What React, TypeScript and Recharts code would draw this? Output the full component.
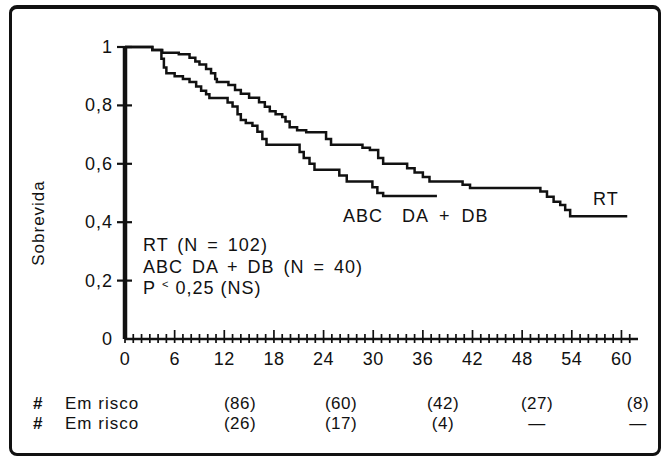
import React from 'react';
import { LineChart, Line, XAxis, YAxis } from 'recharts';

// Kaplan-Meier curve: RT (months, survival)
const rtMonths = [0, 3.3, 4.5, 6.5, 7.8, 8.5, 9.0, 9.8, 10.4, 10.9, 11.1, 12.5, 13.3, 14.0, 15.0, 16.2, 16.9, 17.5, 18.2, 19.0, 19.4, 19.9, 20.8, 21.9, 24.3, 24.9, 28.7, 29.6, 30.6, 31.2, 34.1, 35.0, 36.0, 36.8, 40.8, 41.7, 50.2, 51.0, 51.8, 52.6, 53.2, 53.8, 60.7];
const rtSurvival = [1, 0.99, 0.98, 0.975, 0.963, 0.95, 0.94, 0.925, 0.91, 0.89, 0.88, 0.87, 0.853, 0.84, 0.826, 0.811, 0.795, 0.78, 0.77, 0.76, 0.745, 0.725, 0.715, 0.708, 0.685, 0.665, 0.655, 0.647, 0.62, 0.6, 0.585, 0.57, 0.555, 0.539, 0.528, 0.517, 0.505, 0.487, 0.47, 0.459, 0.442, 0.42, 0.42];

// Kaplan-Meier curve: ABC DA + DB (months, survival)
const abcMonths = [0, 3.3, 4.4, 4.7, 5.0, 6.0, 7.0, 7.8, 8.6, 9.2, 9.8, 10.2, 12.4, 13.0, 13.6, 14.0, 14.6, 15.4, 16.0, 16.6, 17.1, 21.1, 21.6, 22.3, 22.9, 25.9, 26.8, 29.9, 30.5, 31.2, 37.7];
const abcSurvival = [1, 0.99, 0.96, 0.93, 0.91, 0.9, 0.89, 0.88, 0.865, 0.85, 0.838, 0.825, 0.81, 0.796, 0.77, 0.75, 0.74, 0.73, 0.71, 0.685, 0.665, 0.64, 0.62, 0.6, 0.58, 0.56, 0.539, 0.52, 0.5, 0.49, 0.49];

const xTicks = Array.from({ length: 62 }, (_, i) => i);
const yTicks = [0, 0.2, 0.4, 0.6, 0.8, 1];
const yTickLabels = ['0', '0,2', '0,4', '0,6', '0,8', '1'];

const riskRT = ['(86)', '(60)', '(42)', '(27)', '(8)'];
const riskABC = ['(26)', '(17)', '(4)', '—', '—'];
const riskLabel = 'Em risco';

const annotationLines = ['RT (N = 102)', 'ABC DA + DB (N = 40)'];

const rtData = rtMonths.map((m, i) => ({ m, s: rtSurvival[i] }));
const abcData = abcMonths.map((m, i) => ({ m, s: abcSurvival[i] }));

const FONT = '"Liberation Sans", Arial, Helvetica, sans-serif';
const INK = '#111';

const XTick = (props: any) => {
  const { x, y, payload } = props;
  const major = payload.value % 6 === 0;
  return (
    <g>
      <line x1={x} x2={x} y1={y - (major ? 9 : 5)} y2={y + 4} stroke={INK} strokeWidth={1.7} />
      {major && (
        <text x={x} y={y + 26} textAnchor="middle" fontSize={18} fill={INK} fontFamily={FONT} letterSpacing={0.5}>
          {payload.value}
        </text>
      )}
    </g>
  );
};

const YTick = (props: any) => {
  const { x, y, payload, index } = props;
  const idx = yTicks.indexOf(payload.value);
  const label = yTickLabels[idx >= 0 ? idx : index];
  return (
    <g>
      {payload.value !== 0 && (
        <line x1={x - 8} x2={x + 7} y1={y} y2={y} stroke={INK} strokeWidth={2.2} />
      )}
      <text x={x - 12} y={y + 6} textAnchor="end" fontSize={18} fill={INK} fontFamily={FONT} letterSpacing={1}>
        {label}
      </text>
    </g>
  );
};

const riskCols = [240, 341, 443, 537, 638];

export default function App() {
  return (
    <div style={{ position: 'absolute', left: 0, top: 0, width: 663, height: 459, background: '#fff', fontFamily: FONT }}>
      <div
        style={{
          position: 'absolute',
          left: 9,
          top: 5,
          width: 652,
          height: 451,
          boxSizing: 'border-box',
          border: `3px solid ${INK}`,
          borderTopWidth: 4,
          borderRadius: 8,
        }}
      />
      <div style={{ position: 'absolute', left: 0, top: 0 }}>
        <LineChart width={663} height={459} margin={{ top: 47, right: 25, bottom: 90, left: 0 }}>
          <XAxis
            type="number"
            dataKey="m"
            domain={[0, 62]}
            allowDataOverflow
            ticks={xTicks}
            interval={0}
            height={30}
            tickSize={0}
            tickMargin={0}
            tickLine={false}
            axisLine={{ stroke: INK, strokeWidth: 2.5 }}
            tick={(p: any) => <XTick {...p} />}
          />
          <YAxis
            type="number"
            dataKey="s"
            domain={[0, 1]}
            ticks={yTicks}
            interval={0}
            width={125}
            tickSize={0}
            tickMargin={0}
            tickLine={false}
            axisLine={{ stroke: INK, strokeWidth: 4.5 }}
            tick={(p: any) => <YTick {...p} />}
          />
          <Line data={rtData} dataKey="s" type="stepAfter" stroke={INK} strokeWidth={2.5} dot={false} isAnimationActive={false} />
          <Line data={abcData} dataKey="s" type="stepAfter" stroke={INK} strokeWidth={2.5} dot={false} isAnimationActive={false} />
        </LineChart>
      </div>
      <svg width={663} height={459} style={{ position: 'absolute', left: 0, top: 0, pointerEvents: 'none' }}>
        <g fontFamily={FONT} fill={INK}>
          <text transform="translate(44,223) rotate(-90)" textAnchor="middle" fontSize={17} letterSpacing={1}>
            Sobrevida
          </text>
          <text x={343} y={222} fontSize={18} letterSpacing={1}>ABC</text>
          <text x={402} y={222} fontSize={18} letterSpacing={1} wordSpacing={5}>DA + DB</text>
          <text x={593} y={205} fontSize={18} letterSpacing={1}>RT</text>
          <text x={143} y={251} fontSize={18} letterSpacing={1} wordSpacing={3}>{annotationLines[0]}</text>
          <text x={143} y={273} fontSize={18} letterSpacing={1} wordSpacing={3}>{annotationLines[1]}</text>
          <text x={143} y={294} fontSize={18} letterSpacing={1}>
            P
            <tspan dx={6} dy={-6} fontSize={11}>{'<'}</tspan>
            <tspan dx={6} dy={6}>0,25 (NS)</tspan>
          </text>
          <text x={33} y={409} fontSize={17} fontWeight="bold">#</text>
          <text x={65} y={409} fontSize={17} letterSpacing={1}>{riskLabel}</text>
          <text x={33} y={429} fontSize={17} fontWeight="bold">#</text>
          <text x={65} y={429} fontSize={17} letterSpacing={1}>{riskLabel}</text>
          {riskRT.map((t, i) => (
            <text key={'a' + i} x={riskCols[i]} y={409} fontSize={17} textAnchor="middle" letterSpacing={0.5}>{t}</text>
          ))}
          {riskABC.map((t, i) => (
            <text key={'b' + i} x={riskCols[i]} y={429} fontSize={17} textAnchor="middle" letterSpacing={0.5}>{t}</text>
          ))}
        </g>
      </svg>
    </div>
  );
}
